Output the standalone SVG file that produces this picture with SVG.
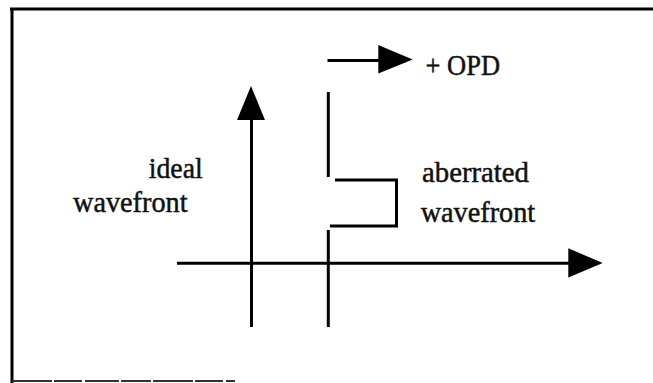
<svg xmlns="http://www.w3.org/2000/svg" width="653" height="383" viewBox="0 0 653 383">
  <style>
    .ln { stroke: #000; stroke-width: 3; fill: none; stroke-linecap: butt; }
    .head { fill: #000; stroke: none; }
    .lbl { font-family: "Liberation Serif", "Times New Roman", serif; font-size: 30px; fill: #111; stroke: #111; stroke-width: 0.5; }
  </style>
  <rect width="653" height="383" fill="#fff"/>

  <!-- frame -->
  <g id="frame">
    <line class="ln" x1="10" y1="9" x2="653" y2="9"/>
    <line class="ln" x1="12" y1="8" x2="12" y2="383"/>
    <line x1="12" y1="381" x2="235" y2="381" stroke="#333" stroke-width="2" stroke-dasharray="40 2 28 3 34 2 30 2"/>
  </g>

  <!-- ideal wavefront: vertical arrow -->
  <g id="ideal-wavefront">
    <line class="ln" x1="251.5" y1="327" x2="251.5" y2="118"/>
    <polygon class="head" points="251,86 265,120 237,120"/>
  </g>

  <!-- aberrated wavefront: stepped profile -->
  <g id="aberrated-wavefront">
    <line class="ln" x1="328.3" y1="92" x2="328.3" y2="177"/>
    <polyline class="ln" points="335,180 396.5,180 396.5,226 330,226"/>
    <line class="ln" x1="328.3" y1="230" x2="328.3" y2="327"/>
  </g>

  <!-- connectors: axis and OPD direction -->
  <g id="connectors">
    <line class="ln" x1="177" y1="263.3" x2="572" y2="263.3"/>
    <polygon class="head" points="602.7,263 568.3,248.3 568.3,277.5"/>
    <line class="ln" x1="327.5" y1="60.5" x2="382" y2="60.5"/>
    <polygon class="head" points="412.7,59.5 378.3,45 378.3,73.5"/>
  </g>

  <!-- labels -->
  <g id="labels">
    <text class="lbl" x="148.7" y="178" textLength="54" lengthAdjust="spacingAndGlyphs">ideal</text>
    <text class="lbl" x="73" y="212" textLength="114.5" lengthAdjust="spacingAndGlyphs">wavefront</text>
    <text class="lbl" x="422" y="182" textLength="107" lengthAdjust="spacingAndGlyphs">aberrated</text>
    <text class="lbl" x="420.7" y="222" textLength="114.5" lengthAdjust="spacingAndGlyphs">wavefront</text>
    <text class="lbl" x="425.5" y="75" textLength="74.5" lengthAdjust="spacingAndGlyphs">+ OPD</text>
  </g>
</svg>
